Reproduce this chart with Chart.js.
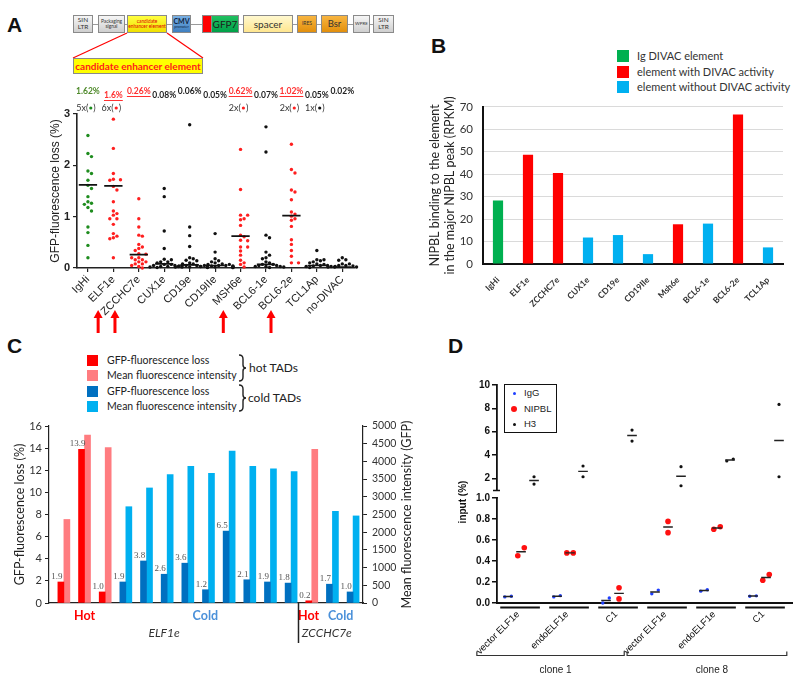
<!DOCTYPE html>
<html>
<head>
<meta charset="utf-8">
<script src="https://cdn.jsdelivr.net/npm/chart.js@4.4.1/dist/chart.umd.min.js"></script>
<style>
body { margin: 0; background: #fff; }
#page { position: relative; width: 800px; height: 684px; overflow: hidden; font-family: "Liberation Sans", Arial, sans-serif; }
canvas { position: absolute; }
.plabel { position: absolute; font: bold 21px "Liberation Sans", Arial, sans-serif; line-height: 21px; color: #111; }
.seg { position: absolute; top: 15px; height: 18px; box-sizing: border-box; border: 1px solid #8a8a8a; display: flex; flex-direction: column; align-items: center; justify-content: center; text-align: center; line-height: 1.05; color: #333; font-family: Lato, sans-serif; }
.gray { background: linear-gradient(#f6f6f6, #cfcfcf); }
.sq { position: absolute; width: 11px; height: 11px; }
.lt { position: absolute; font: 10.5px Lato, sans-serif; line-height: 16px; color: #222; white-space: nowrap; }
.lb { font-size: 11px; color: #333; }
.dl { position: absolute; font: 9.5px "Liberation Sans", Arial, sans-serif; line-height: 12px; color: #222; }
.dot { position: absolute; border-radius: 50%; }
</style>
</head>
<body>
<div id="page">
  <div class="plabel" style="left:7px;top:14px">A</div>
  <div class="plabel" style="left:431px;top:35px">B</div>
  <div class="plabel" style="left:7px;top:335px">C</div>
  <div class="plabel" style="left:448px;top:335px">D</div>

  <!-- vector construct -->
  <div style="position:absolute;left:73px;top:23.5px;width:321px;height:1.5px;background:#9a9a9a"></div>
  <div class="seg gray" style="left:73px;width:20px;font-size:6.5px">SIN<span>LTR</span></div>
  <div class="seg gray" style="left:98px;width:27px;font-size:4.8px">Packaging<span>signal</span></div>
  <div class="seg" style="left:127px;width:40px;font-size:4.8px;color:#e00000;background:linear-gradient(#ffff40,#f0e000)">candidate<span>enhancer element</span></div>
  <div class="seg" style="left:172px;width:19px;background:linear-gradient(#78b0e4,#3f7fc0);color:#10233f"><b style="font-size:7px">CMV</b><span style="font-size:3.5px">promoter</span></div>
  <div class="seg" style="left:202px;width:10px;background:#ff0000;border-right:none"></div>
  <div class="seg" style="left:211px;width:28px;font-size:10px;color:#1b1b1b;background:linear-gradient(#20c060,#00a048)">GFP7</div>
  <div class="seg" style="left:243px;width:50px;font-size:10px;background:linear-gradient(#fff8cf,#ffe68f)">spacer</div>
  <div class="seg" style="left:297px;width:20px;font-size:5px;background:linear-gradient(#f8b540,#e28f0c)">IRES</div>
  <div class="seg" style="left:321px;width:27px;font-size:9.5px;background:linear-gradient(#f8b540,#e28f0c)">Bsr</div>
  <div class="seg gray" style="left:353px;width:17px;font-size:4.5px">WPRE</div>
  <div class="seg gray" style="left:373px;width:21px;font-size:6.5px">SIN<span>LTR</span></div>
  <svg style="position:absolute;left:0;top:0" width="420" height="80">
    <line x1="127" y1="33" x2="73" y2="58" stroke="#ff0000" stroke-width="1.2"/>
    <line x1="167" y1="33" x2="203" y2="58" stroke="#ff0000" stroke-width="1.2"/>
  </svg>
  <div style="position:absolute;left:73px;top:58px;width:130px;height:16px;box-sizing:border-box;border:1px solid #8a8a8a;background:#ffff00;color:#ff1a1a;font:bold 10px Lato,sans-serif;line-height:14px;text-align:center">candidate enhancer element</div>

  <canvas id="cA" width="420" height="255" style="left:0;top:85px"></canvas>

  <!-- B legend -->
  <div class="sq" style="left:617px;top:50px;width:12px;height:12px;background:#00b050"></div>
  <div class="lt lb" style="left:637px;top:48px">Ig DIVAC element</div>
  <div class="sq" style="left:617px;top:66px;width:12px;height:12px;background:#ff0000"></div>
  <div class="lt lb" style="left:637px;top:64px">element with DIVAC activity</div>
  <div class="sq" style="left:617px;top:81px;width:12px;height:12px;background:#00b0f0"></div>
  <div class="lt lb" style="left:637px;top:79px">element without DIVAC activity</div>
  <canvas id="cB" width="380" height="240" style="left:420px;top:90px"></canvas>

  <!-- C legend -->
  <div class="sq" style="left:87px;top:355px;background:#ff0000"></div>
  <div class="lt" style="left:107px;top:352px">GFP-fluorescence loss</div>
  <div class="sq" style="left:87px;top:370px;background:#ff7c80"></div>
  <div class="lt" style="left:107px;top:367px">Mean fluorescence intensity</div>
  <div class="sq" style="left:87px;top:386px;background:#0070c0"></div>
  <div class="lt" style="left:107px;top:383px">GFP-fluorescence loss</div>
  <div class="sq" style="left:87px;top:401px;background:#00b0f0"></div>
  <div class="lt" style="left:107px;top:398px">Mean fluorescence intensity</div>
  <svg style="position:absolute;left:237px;top:352px" width="14" height="64">
    <path d="M2,3 q4,0 4,4 v6 q0,3 3,3 q-3,0 -3,3 v6 q0,4 -4,4" fill="none" stroke="#222" stroke-width="1.4"/>
    <path d="M2,33 q4,0 4,4 v6 q0,3 3,3 q-3,0 -3,3 v6 q0,4 -4,4" fill="none" stroke="#222" stroke-width="1.4"/>
  </svg>
  <div class="lt" style="left:249px;top:360px;font-size:12px">hot TADs</div>
  <div class="lt" style="left:248px;top:390px;font-size:12px">cold TADs</div>
  <canvas id="cC" width="420" height="240" style="left:0;top:410px"></canvas>

  <canvas id="cD" width="380" height="309" style="left:420px;top:375px"></canvas>
  <!-- D legend -->
  <div style="position:absolute;left:504px;top:384px;width:53px;height:49px;box-sizing:border-box;border:1.8px solid #111;background:#fff"></div>
  <div class="dot" style="left:512.5px;top:391.5px;width:3px;height:3px;background:#1f3fff"></div>
  <div class="dl" style="left:524px;top:387px">IgG</div>
  <div class="dot" style="left:511px;top:406px;width:6px;height:6px;background:#ff1010"></div>
  <div class="dl" style="left:524px;top:403px">NIPBL</div>
  <div class="dot" style="left:512.5px;top:422.5px;width:3px;height:3px;background:#111"></div>
  <div class="dl" style="left:524px;top:418px">H3</div>
</div>

<script>
// ---------- panel A: GFP-fluorescence loss per element (%)
const scatterCats = ['IgHi', 'ELF1e', 'ZCCHC7e', 'CUX1e', 'CD19e', 'CD19IIe', 'MSH6e', 'BCL6-1e', 'BCL6-2e', 'TCL1Ap', 'no-DIVAC'];
const igHi = [2.58, 2.23, 2.17, 1.89, 1.84, 1.71, 1.61, 1.55, 1.39, 1.29, 1.26, 1.24, 1.18, 1.11, 0.80, 0.69, 0.44, 0.20];
const elf1e = [2.90, 2.33, 1.84, 1.73, 1.72, 1.71, 1.59, 1.52, 1.29, 1.11, 1.06, 1.03, 0.96, 0.96, 0.85, 0.67, 0.62, 0.59, 0.57, 0.20];
const zcchc7e = [1.35, 0.96, 0.80, 0.64, 0.62, 0.46, 0.41, 0.38, 0.34, 0.28, 0.27, 0.20, 0.20, 0.16, 0.16, 0.12, 0.12, 0.08, 0.08, 0.05, 0.03, 0.00];
const cux1e = [1.55, 1.39, 0.72, 0.38, 0.17, 0.16, 0.12, 0.12, 0.10, 0.07, 0.07, 0.05, 0.05, 0.05, 0.03, 0.03, 0.03, 0.02, 0.02, 0.01];
const cd19e = [2.79, 0.80, 0.63, 0.42, 0.20, 0.18, 0.15, 0.14, 0.10, 0.08, 0.08, 0.05, 0.05, 0.04, 0.03, 0.02, 0.02, 0.02, 0.01];
const cd19IIe = [0.67, 0.31, 0.18, 0.14, 0.12, 0.10, 0.08, 0.07, 0.07, 0.05, 0.05, 0.05, 0.04, 0.04, 0.03, 0.03, 0.02, 0.02, 0.01, 0.01];
const msh6e = [2.31, 1.53, 1.03, 1.03, 0.96, 0.94, 0.83, 0.64, 0.61, 0.54, 0.53, 0.41, 0.41, 0.33, 0.25, 0.15, 0.10, 0.07, 0.02];
const bcl61e = [2.75, 2.26, 0.64, 0.59, 0.31, 0.25, 0.20, 0.18, 0.12, 0.10, 0.07, 0.07, 0.05, 0.05, 0.03, 0.03, 0.03, 0.02, 0.01];
const bcl62e = [2.41, 1.92, 1.85, 1.52, 1.48, 1.33, 1.09, 1.05, 1.01, 0.96, 0.93, 0.81, 0.55, 0.46, 0.34, 0.23, 0.10, 0.10];
const tcl1ap = [0.34, 0.16, 0.16, 0.14, 0.12, 0.10, 0.08, 0.07, 0.05, 0.05, 0.04, 0.03, 0.03, 0.02, 0.01];
const noDivac = [0.20, 0.16, 0.15, 0.08, 0.08, 0.05, 0.05, 0.04, 0.03, 0.02, 0.02, 0.01];
const medians = [1.62, 1.60, 0.26, 0.08, 0.06, 0.05, 0.62, 0.07, 1.02, 0.05, 0.02];
const medianLabels = ['1.62%', '1.6%', '0.26%', '0.08%', '0.06%', '0.05%', '0.62%', '0.07%', '1.02%', '0.05%', '0.02%'];
const offScale = [5, 6, 0, 0, 0, 0, 2, 0, 2, 1, 0];
const activity = ['ig', 'active', 'active', 'none', 'none', 'none', 'active', 'none', 'active', 'none', 'none'];
const arrowed = [1, 2, 6, 8];

// ---------- panel B: NIPBL binding (RPKM)
const nipblCats = ['IgHi', 'ELF1e', 'ZCCHC7e', 'CUX1e', 'CD19e', 'CD19IIe', 'Msh6e', 'BCL6-1e', 'BCL6-2e', 'TCL1Ap'];
const nipblRpkm = [28.3, 48.7, 40.6, 11.8, 12.9, 4.4, 17.7, 18.0, 66.6, 7.4];
const nipblClass = ['ig', 'active', 'active', 'none', 'none', 'none', 'active', 'none', 'active', 'none'];

// ---------- panel C: insertions in hot / cold TADs
const tadType = ['hot', 'hot', 'hot', 'cold', 'cold', 'cold', 'cold', 'cold', 'cold', 'cold', 'cold', 'cold', 'hot', 'cold', 'cold'];
const gfpLoss = [1.9, 13.9, 1.0, 1.9, 3.8, 2.6, 3.6, 1.2, 6.5, 2.1, 1.9, 1.8, 0.2, 1.7, 1.0];
const mfi = [2360, 4740, 4390, 2720, 3250, 3630, 3860, 3660, 4290, 3860, 3790, 3710, 4340, 2590, 2460];

// ---------- panel D: ChIP, % of input
const chipSamples = ['vector ELF1e', 'endoELF1e', 'C1', 'vector ELF1e', 'endoELF1e', 'C1'];
const clones = ['clone 1', 'clone 8'];
const igG = [[0.058, 0.065], [0.058, 0.070], [0.000, 0.048], [0.087, 0.123], [0.113, 0.126], [0.065, 0.068]];
const nipbl = [[0.450, 0.526], [0.477, 0.477], [0.145, 0.039], [0.777, 0.670], [0.703, 0.726], [0.216, 0.271]];
const h3 = [[2.14, 1.51], [3.06, 2.14], [6.14, 5.20], [3.00, 1.37], [3.49, 3.66], [8.34, 2.14]];
const chipLowTicks = [0, 0.2, 0.4, 0.6, 0.8, 1.0];
const chipTopTicks = [2, 4, 6, 8, 10];

const ARIAL = '"Liberation Sans", Arial, sans-serif';
const CALIBRI = 'Lato, "Open Sans", sans-serif';
const dotColor = { ig: '#1e8c1e', active: '#ff1f1f', none: '#111' };
const textColor = { ig: '#4f8a2b', active: '#ff3030', none: '#222' };
const barColor = { ig: '#00b050', active: '#ff0000', none: '#00b0f0' };

Chart.defaults.animation = false;
Chart.defaults.events = [];
Chart.defaults.plugins.legend.display = false;
Chart.defaults.plugins.tooltip.enabled = false;

// spread points of one column sideways so they don't sit on each other
function swarm(vals, idx) {
  const placed = [];
  return vals.slice().sort((a, b) => b - a).map(v => {
    let k = 0, off = 0;
    while (true) {
      off = k === 0 ? 0 : (k % 2 ? 1 : -1) * Math.ceil(k / 2) * 0.14;
      const hit = placed.some(p => Math.hypot((off - p.o) * 25.4, (v - p.v) * 51.3) < 3.6);
      if (!hit || k > 8) break;
      k++;
    }
    placed.push({ o: off, v: v });
    return { x: idx + off, y: v };
  });
}

const scatterNotes = {
  id: 'scatterNotes',
  afterDraw(chart) {
    const { ctx, chartArea, scales: { x } } = chart;
    ctx.save();
    ctx.textAlign = 'center';
    ctx.textBaseline = 'middle';
    medianLabels.forEach((t, i) => {
      const px = x.getPixelForValue(i);
      const py = chartArea.top - (i % 2 ? 19 : 23);
      ctx.font = 'bold 8.5px ' + CALIBRI;
      ctx.fillStyle = textColor[activity[i]];
      ctx.fillText(t, px, py);
      if (activity[i] === 'active') {
        const w = ctx.measureText(t).width;
        ctx.fillRect(px - w / 2, py + 5, w, 1);
      }
      if (offScale[i]) {
        ctx.font = '9px ' + CALIBRI;
        ctx.fillStyle = '#333';
        const a = offScale[i] + 'x(', b = ')';
        const wa = ctx.measureText(a).width, wb = ctx.measureText(b).width;
        const total = wa + 5 + wb;
        const sx = px - 2 - total / 2, cy = chartArea.top - 6;
        ctx.textAlign = 'left';
        ctx.fillText(a, sx, cy);
        ctx.fillText(b, sx + wa + 5, cy);
        ctx.fillStyle = dotColor[activity[i]];
        ctx.beginPath(); ctx.arc(sx + wa + 2.5, cy, 1.6, 0, Math.PI * 2); ctx.fill();
        ctx.textAlign = 'center';
      }
    });
    // red arrows under the active elements
    ctx.font = '11px ' + ARIAL;
    ctx.fillStyle = '#ff0000';
    arrowed.forEach(i => {
      const L = ctx.measureText(scatterCats[i]).width;
      const ax = x.getPixelForValue(i) - 0.47 * L;
      const top = chartArea.bottom + 42;
      ctx.beginPath();
      ctx.moveTo(ax, top); ctx.lineTo(ax + 4.5, top + 8); ctx.lineTo(ax - 4.5, top + 8); ctx.closePath(); ctx.fill();
      ctx.fillRect(ax - 1.5, top + 7, 3, 16);
    });
    ctx.restore();
  }
};

// ---------- A
const medianLine = {
  data: medians.flatMap((m, i) => [{ x: i - 0.36, y: m }, { x: i + 0.36, y: m }, { x: i, y: null }]),
  showLine: true, borderColor: '#111', borderWidth: 1.6, pointRadius: 0, spanGaps: false, clip: false
};
const columns = [igHi, elf1e, zcchc7e, cux1e, cd19e, cd19IIe, msh6e, bcl61e, bcl62e, tcl1ap, noDivac];
const columnSets = columns.map((vals, i) => ({
  data: swarm(vals, i),
  pointRadius: 1.7, pointBorderWidth: 0, pointBackgroundColor: dotColor[activity[i]], clip: false
}));

new Chart(document.getElementById('cA'), {
  type: 'scatter',
  data: { datasets: [medianLine, ...columnSets] },
  options: {
    responsive: false,
    layout: { padding: { left: 0, top: 29, right: 65, bottom: 0 } },
    scales: {
      x: {
        type: 'linear', min: -0.43, max: 10.5, offset: false,
        afterBuildTicks: s => { s.ticks = scatterCats.map((c, i) => ({ value: i })); },
        afterFit: s => { s.height = 72; },
        grid: { display: true, drawOnChartArea: false, tickLength: 4, color: '#222', lineWidth: 1.2 },
        border: { color: '#222', width: 1.6 },
        ticks: { autoSkip: false, minRotation: 45, maxRotation: 45, padding: 1, color: '#222',
          font: { family: ARIAL, size: 11 }, callback: v => scatterCats[v] }
      },
      y: {
        min: 0, max: 3,
        afterFit: s => { s.width = 77; },
        ticks: { stepSize: 1, color: '#222', padding: 3, font: { family: ARIAL, size: 11, weight: 'bold' } },
        grid: { drawOnChartArea: false, tickLength: 4, color: '#222', lineWidth: 1.2 },
        border: { color: '#222', width: 1.6 },
        title: { display: true, text: 'GFP-fluorescence loss (%)', color: '#222',
          font: { family: ARIAL, size: 12 }, padding: { top: 48 } }
      }
    }
  },
  plugins: [scatterNotes]
});

// ---------- B
new Chart(document.getElementById('cB'), {
  type: 'bar',
  data: {
    labels: nipblCats,
    datasets: [{ data: nipblRpkm, backgroundColor: nipblClass.map(c => barColor[c]),
      barPercentage: 0.34, categoryPercentage: 1 }]
  },
  options: {
    responsive: false,
    layout: { padding: { left: 0, top: 9, right: 17, bottom: 0 } },
    scales: {
      x: {
        grid: { display: false }, border: { color: '#111', width: 2 },
        afterFit: s => { s.height = 66; },
        ticks: { autoSkip: false, minRotation: 45, maxRotation: 45, padding: 3, color: '#333',
          font: { family: CALIBRI, size: 8.5, weight: 'bold' } }
      },
      y: {
        min: 0, max: 70,
        afterFit: s => { s.width = 63; },
        ticks: { stepSize: 10, color: '#333', padding: 10, font: { family: CALIBRI, size: 11.5 } },
        grid: { color: '#dadada', drawTicks: false },
        border: { color: '#111', width: 2 },
        title: { display: true, text: ['NIPBL binding to the element', 'in the major NIPBL peak (RPKM)'],
          color: '#222', font: { family: CALIBRI, size: 12.5 }, padding: { top: 7 } }
      }
    }
  }
});

// ---------- C
const tadNotes = {
  id: 'tadNotes',
  afterDraw(chart) {
    const { ctx, chartArea: ca, scales: { x, y } } = chart;
    ctx.save();
    ctx.textAlign = 'center';
    ctx.textBaseline = 'bottom';
    ctx.font = '9px "Liberation Serif", serif';
    ctx.fillStyle = '#555';
    gfpLoss.forEach((v, i) => {
      ctx.fillText(v.toFixed(1), x.getPixelForValue(i) - 7, y.getPixelForValue(v) - 1);
    });
    ctx.textBaseline = 'middle';
    ctx.font = 'bold 12.5px ' + CALIBRI;
    [[1, 'Hot', '#ff0000'], [6.85, 'Cold', '#4a90d9'], [11.85, 'Hot', '#ff0000'], [13.4, 'Cold', '#4a90d9']].forEach(([p, t, c]) => {
      ctx.fillStyle = c;
      ctx.fillText(t, x.getPixelForValue(p), ca.bottom + 13);
    });
    ctx.font = 'italic 12px ' + CALIBRI;
    ctx.fillStyle = '#333';
    ctx.fillText('ELF1e', x.getPixelForValue(4.85), ca.bottom + 30);
    ctx.fillText('ZCCHC7e', x.getPixelForValue(12.73), ca.bottom + 30);
    const sx = Math.round(x.getPixelForValue(11.35)) + 0.5;
    ctx.strokeStyle = '#222';
    ctx.lineWidth = 1.5;
    ctx.beginPath(); ctx.moveTo(sx, ca.bottom); ctx.lineTo(sx, ca.bottom + 40); ctx.stroke();
    // right axis title, read bottom to top
    ctx.translate(407, (ca.top + ca.bottom) / 2);
    ctx.rotate(-Math.PI / 2);
    ctx.font = '12.5px ' + CALIBRI;
    ctx.fillStyle = '#222';
    ctx.fillText('Mean fluorescence intensity (GFP)', 0, 0);
    ctx.restore();
  }
};

new Chart(document.getElementById('cC'), {
  type: 'bar',
  data: {
    datasets: [
      { data: gfpLoss.map((v, i) => ({ x: i, y: v })), yAxisID: 'y', barThickness: 6,
        backgroundColor: tadType.map(t => t === 'hot' ? '#ff0000' : '#0070c0') },
      { data: mfi.map((v, i) => ({ x: i, y: v })), yAxisID: 'y2', barThickness: 6,
        backgroundColor: tadType.map(t => t === 'hot' ? '#ff7c80' : '#00b0f0') }
    ]
  },
  options: {
    responsive: false,
    layout: { padding: { left: 0, top: 16, right: 0, bottom: 0 } },
    scales: {
      x: {
        type: 'linear', min: -0.72, max: 14.48, offset: false,
        ticks: { display: false }, grid: { display: false, offset: false },
        border: { color: '#222', width: 1.2 },
        afterFit: s => { s.height = 47; }
      },
      y: {
        position: 'left', min: 0, max: 16,
        afterFit: s => { s.width = 49; },
        ticks: { stepSize: 2, color: '#333', padding: 3, font: { family: CALIBRI, size: 11 } },
        grid: { drawOnChartArea: false, tickLength: 4, color: '#222' },
        border: { color: '#222', width: 1.2 },
        title: { display: true, text: 'GFP-fluorescence loss (%)', color: '#222',
          font: { family: CALIBRI, size: 12.5 }, padding: { top: 12 } }
      },
      y2: {
        position: 'right', min: 0, max: 5000,
        afterFit: s => { s.width = 57; },
        ticks: { stepSize: 500, color: '#333', padding: 5, font: { family: CALIBRI, size: 10.5 },
          callback: v => String(v) },
        grid: { drawOnChartArea: false, tickLength: 4, color: '#222' },
        border: { color: '#222', width: 1.2 }
      }
    }
  },
  plugins: [tadNotes]
});

// ---------- D
const GROUP_STEP = 3.77;
function pairPoints(pairs, sub, radius, pxPerUnit) {
  return pairs.flatMap((p, g) => {
    const base = g * GROUP_STEP + sub;
    const close = Math.abs(p[0] - p[1]) * pxPerUnit < radius * 4;
    return p.map((v, k) => ({ x: base + (close ? (k ? 0.25 : -0.25) : 0), y: v }));
  });
}
function meanSegments(pairs, sub) {
  return pairs.flatMap((p, g) => {
    const base = g * GROUP_STEP + sub;
    const m = (p[0] + p[1]) / 2;
    return [{ x: base - 0.37, y: m }, { x: base + 0.37, y: m }, { x: base, y: null }];
  });
}

const chipNotes = {
  id: 'chipNotes',
  afterDraw(chart) {
    const { ctx, chartArea: ca, scales: { x, yLow } } = chart;
    ctx.save();
    // axis break
    const yb = yLow.top;
    ctx.fillStyle = '#fff';
    ctx.fillRect(ca.left - 3, yb - 7, 6, 6);
    ctx.strokeStyle = '#111';
    ctx.lineWidth = 1.5;
    ctx.beginPath(); ctx.moveTo(ca.left - 4, yb - 7.5); ctx.lineTo(ca.left + 3, yb - 7.5); ctx.stroke();
    // group bars + sample names
    chipSamples.forEach((name, g) => {
      const base = g * GROUP_STEP;
      ctx.lineWidth = 2;
      ctx.beginPath();
      ctx.moveTo(x.getPixelForValue(base - 0.6), ca.bottom + 4.5);
      ctx.lineTo(x.getPixelForValue(base + 2.45), ca.bottom + 4.5);
      ctx.stroke();
      ctx.save();
      ctx.translate(x.getPixelForValue(base + 1) - 3, ca.bottom + 10);
      ctx.rotate(-Math.PI / 4);
      ctx.font = '9.5px ' + ARIAL;
      ctx.fillStyle = '#111';
      ctx.textAlign = 'right';
      ctx.textBaseline = 'middle';
      ctx.fillText(name, 0, 0);
      ctx.restore();
    });
    // clone brackets
    const by = ca.bottom + 52.5;
    [[-2.4, 2 * GROUP_STEP + 1.4], [3 * GROUP_STEP - 2.15, 5 * GROUP_STEP + 2.6]].forEach(([a, b], c) => {
      const xa = x.getPixelForValue(a), xb = x.getPixelForValue(b);
      ctx.lineWidth = 1.2;
      ctx.strokeStyle = '#333';
      ctx.beginPath();
      ctx.moveTo(xa, by - 4); ctx.lineTo(xa, by); ctx.lineTo(xb, by); ctx.lineTo(xb, by - 4);
      ctx.stroke();
      ctx.font = '10px ' + ARIAL;
      ctx.fillStyle = '#222';
      ctx.textAlign = 'center';
      ctx.textBaseline = 'middle';
      ctx.fillText(clones[c], (xa + xb) / 2 + 5, by + 15);
    });
    // y title
    ctx.translate(43, yb + 4);
    ctx.rotate(-Math.PI / 2);
    ctx.font = 'bold 10px ' + ARIAL;
    ctx.fillStyle = '#111';
    ctx.textAlign = 'center';
    ctx.textBaseline = 'middle';
    ctx.fillText('input (%)', 0, 0);
    ctx.restore();
  }
};

const yStyle = {
  grid: { drawOnChartArea: false, tickLength: 5, color: '#111', lineWidth: 1.5 },
  border: { color: '#111', width: 1.8 },
  afterFit: s => { s.width = 77; }
};

new Chart(document.getElementById('cD'), {
  type: 'scatter',
  data: {
    datasets: [
      { data: meanSegments(igG, 0).concat(meanSegments(nipbl, 1)), yAxisID: 'yLow', showLine: true,
        borderColor: '#222', borderWidth: 1.4, pointRadius: 0, spanGaps: false, clip: false },
      { data: meanSegments(h3, 2), yAxisID: 'yTop', showLine: true,
        borderColor: '#222', borderWidth: 1.4, pointRadius: 0, spanGaps: false, clip: false },
      { data: pairPoints(igG, 0, 1.6, 105), yAxisID: 'yLow', pointRadius: 1.7, pointBorderWidth: 0,
        pointBackgroundColor: '#1f3fff', clip: false },
      { data: pairPoints(nipbl, 1, 2.7, 105), yAxisID: 'yLow', pointRadius: 2.8, pointBorderWidth: 0,
        pointBackgroundColor: '#ff1010', clip: false },
      { data: pairPoints(h3, 2, 1.5, 11.67), yAxisID: 'yTop', pointRadius: 1.6, pointBorderWidth: 0,
        pointBackgroundColor: '#111', clip: false }
    ]
  },
  options: {
    responsive: false,
    layout: { padding: { left: 0, top: 10, right: 8, bottom: 0 } },
    scales: {
      x: {
        type: 'linear', min: -0.85, max: 21.85,
        ticks: { display: false }, grid: { display: false },
        border: { color: '#111', width: 2 },
        afterFit: s => { s.height = 81; }
      },
      yLow: Object.assign({
        type: 'linear', position: 'left', stack: 'chip', stackWeight: 105, min: 0, max: 1,
        afterBuildTicks: s => { s.ticks = chipLowTicks.map(v => ({ value: v })); },
        ticks: { autoSkip: false, color: '#111', padding: 2, font: { family: ARIAL, size: 10, weight: 'bold' },
          callback: v => v.toFixed(1) }
      }, yStyle),
      yTop: Object.assign({
        type: 'linear', position: 'left', stack: 'chip', stackWeight: 113, min: 0.32, max: 10,
        afterBuildTicks: s => { s.ticks = chipTopTicks.map(v => ({ value: v })); },
        ticks: { autoSkip: false, color: '#111', padding: 2, font: { family: ARIAL, size: 10, weight: 'bold' } }
      }, yStyle)
    }
  },
  plugins: [chipNotes]
});
</script>
</body>
</html>
